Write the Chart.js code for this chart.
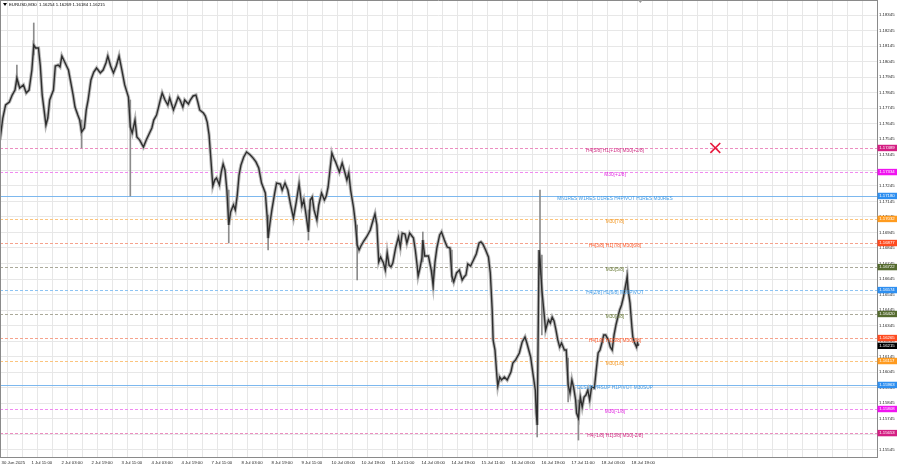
<!DOCTYPE html>
<html><head><meta charset="utf-8">
<script src="https://cdn.jsdelivr.net/npm/chart.js@4.4.1/dist/chart.umd.min.js"></script>
<style>html,body{margin:0;padding:0;background:#fff}#wrap{width:900px;height:468px;position:relative}</style>
</head><body><div id="wrap"><canvas id="c" width="900" height="468"></canvas></div>
<script>
// ---- DATA ----
const timeLabels = ["30 Jun 2025","1 Jul 11:00","2 Jul 03:00","2 Jul 19:00","3 Jul 11:00","4 Jul 03:00","4 Jul 19:00","7 Jul 11:00","8 Jul 03:00","8 Jul 19:00","9 Jul 11:00","10 Jul 03:00","10 Jul 19:00","11 Jul 11:00","14 Jul 03:00","14 Jul 19:00","15 Jul 11:00","16 Jul 03:00","16 Jul 19:00","17 Jul 11:00","18 Jul 03:00","18 Jul 19:00"];
const priceTicks = [1.15545,1.15645,1.15745,1.15845,1.15945,1.16045,1.16145,1.16245,1.16345,1.16445,1.16545,1.16645,1.16745,1.16845,1.16945,1.17045,1.17145,1.17245,1.17345,1.17445,1.17545,1.17645,1.17745,1.17845,1.17945,1.18045,1.18145,1.18245,1.18345];
const bars = [0,3,6,10,13,16,18,21,25,28,31,34,36,38,41,43,45,47,49,51,53,57,59,62,64,66,69,73,75,78,80,83,85,87,90,92,94,97,100,103,107,110,113,115,118,121,124,127,130,133,137,139,141,144,146,149,153,156,159,162,164,167,171,173,176,179,181,185,187,190,192,195,197,201,203,206,209,211,213,217,219,221,223,225,227,229,231,234,236,238,240,242,244,246,249,251,253,255,257,260,263,267,270,273,276,279,283,285,286,288,290,293,295,299,301,304,307,310,313,316,319,322,324,326,329,331,333,335,338,340,343,346,348,350,352,354,356,358,362,365,368,370,372,374,377,379,381,383,385,388,391,395,398,400,402,404,406,409,411,413,415,417,419,422,425,427,429,432,434,437,441,443,445,446,448,450,451,453,457,460,462,464,466,469,471,474,477,480,482,484,487,490,493,495,497,499,502,505,508,511,513,515,518,521,523,525,526,528,530,531,533,535,538,541,543,545,547,550,554,557,560,562,564,566,569,571,572,573,575,576,578,580,582,585,587,589,591,593,595,597,599,602,604,606,608,610,612,614,615,617,619,621,623,625,627,629,631,634,636,638,640,642,644,646,649,651,653,655,657,659,661,663,665,667,669,670,672,674,675,677,679,680,681];
const closes = [1.17540,1.17682,1.17766,1.17785,1.17830,1.17862,1.17940,1.17875,1.17895,1.17843,
1.17862,1.17991,1.18152,1.18133,1.18133,1.18017,1.17830,1.17734,1.17637,1.17682,
1.17798,1.17862,1.18017,1.18023,1.18011,1.18081,1.18043,1.17991,1.17927,1.17830,
1.17753,1.17701,1.17669,1.17592,1.17618,1.17734,1.17798,1.17927,1.17978,1.18004,
1.17972,1.17991,1.18036,1.18081,1.18017,1.17972,1.18017,1.18081,1.17991,1.17895,
1.17817,1.17624,1.17585,1.17669,1.17560,1.17540,1.17495,1.17540,1.17579,1.17618,
1.17669,1.17701,1.17798,1.17843,1.17798,1.17766,1.17811,1.17734,1.17766,1.17817,
1.17798,1.17753,1.17798,1.17772,1.17798,1.17824,1.17830,1.17785,1.17734,1.17714,
1.17695,1.17656,1.17573,1.17412,1.17244,1.17283,1.17296,1.17251,1.17334,1.17386,
1.17347,1.17218,1.16993,1.17077,1.17122,1.17090,1.17180,1.17315,1.17379,1.17431,
1.17463,1.17444,1.17424,1.17399,1.17360,1.17263,1.17199,1.17044,1.16909,1.17006,
1.17090,1.17199,1.17263,1.17257,1.17218,1.17263,1.17218,1.17122,1.17038,1.17141,
1.17257,1.17115,1.17154,1.17077,1.16948,1.17154,1.17173,1.17090,1.17025,1.17122,
1.17199,1.17154,1.17180,1.17238,1.17347,1.17457,1.17424,1.17399,1.17334,1.17392,
1.17328,1.17283,1.17328,1.17218,1.17109,1.17012,1.16864,1.16832,1.16858,1.16890,
1.16916,1.16961,1.17025,1.17064,1.16993,1.16755,1.16787,1.16748,1.16703,1.16813,
1.16735,1.16723,1.16748,1.16845,1.16916,1.16851,1.16941,1.16935,1.16877,1.16941,
1.16909,1.16832,1.16729,1.16665,1.16716,1.16780,1.16896,1.16793,1.16793,1.16703,
1.16607,1.16755,1.16845,1.16929,1.16948,1.16896,1.16851,1.16845,1.16665,1.16626,
1.16684,1.16703,1.16639,1.16658,1.16671,1.16742,1.16729,1.16768,1.16806,1.16877,
1.16884,1.16871,1.16832,1.16787,1.16684,1.16446,1.16252,1.16188,1.16021,1.15956,
1.16014,1.15995,1.16014,1.15995,1.16021,1.16046,1.16104,1.16124,1.16169,1.16240,
1.16272,1.16233,1.16188,1.16143,1.16014,1.15930,1.15782,1.15705,1.16832,1.16768,
1.16574,1.16446,1.16317,1.16381,1.16362,1.16400,1.16375,1.16317,1.16252,1.16207,
1.16233,1.16188,1.16188,1.15963,1.15911,1.15995,1.15943,1.15866,1.15782,1.15750,
1.15885,1.15821,1.15885,1.15898,1.15930,1.15866,1.15950,1.15943,1.16059,1.16169,
1.16188,1.16233,1.16285,1.16285,1.16252,1.16207,1.16188,1.16285,1.16349,1.16400,
1.16446,1.16478,1.16529,1.16594,1.16658,1.16574,1.16491,1.16336,1.16272,1.16233,
1.16207,1.16233,1.16215];
const spikeBars  = [18,36,87,139,244,286,329,381,451,462,482,573,576,578,606,617,669];
const spikeHighs = [1.18023,1.18294,1.17669,1.17798,1.17218,1.17057,1.17090,1.16993,1.16948,1.16703,1.16832,1.15834,1.17218,1.16800,1.16136,1.15866,1.16703];
const spikeLows  = [1.17895,1.18088,1.17489,1.17180,1.16877,1.16832,1.16896,1.16639,1.16755,1.16574,1.16626,1.15628,1.16671,1.16285,1.15853,1.15608,1.16574];
const levelValues = [1.17489,1.17334,1.17180,1.17032,1.16877,1.16722,1.16574,1.16420,1.16265,1.16117,1.15963,1.15808,1.15653];
const levelNames = ["H4[5/8] H1[+1/8] M30[+2/8]","M30[+1/8]","MN1RES W1RES D1RES H4PIVOT H1RES M30RES","M30[7/8]","H4[3/8] H1[7/8] M30[6/8]","M30[5/8]","H4[2/8] H1[6/8] M30PIVOT","M30[3/8]","H4[1/8] H1[5/8] M30[2/8]","M30[1/8]","D1SUP H4SUP H1PIVOT M30SUP","M30[-1/8]","H4[-1/8] H1[3/8] M30[-2/8]"];
const symbolHeader = "EURUSD,M30  1.16254 1.16269 1.16184 1.16215";
const lastPrice = 1.16215;
const markerBar = 763, markerPrice = 1.17489;

// ---- STYLES ----
const S = {
  pink:   {line:'#ec8cc0', box:'#d41f83', text:'#cf2a80', dash:[3,2], w:1},
  mag:    {line:'#f08af0', box:'#f014f0', text:'#e02ae0', dash:[3,2], w:1},
  blue:   {line:'#7db8ee', box:'#2e8ff0', text:'#3f9ae6', dash:[], w:1.2},
  orange: {line:'#fbc47e', box:'#ff9b1f', text:'#f39b2a', dash:[3,2], w:1},
  ored:   {line:'#f6a28c', box:'#ff4b20', text:'#fb5a2c', dash:[3,2], w:1},
  olive:  {line:'#aaa99a', box:'#556b2f', text:'#6d7e3c', dash:[3,2], w:1},
  dblue:  {line:'#8dc4f3', box:'#2e8ff0', text:'#3f9ae6', dash:[3,2], w:1}
};
const levelStyles = [S.pink,S.mag,S.blue,S.orange,S.ored,S.olive,S.dblue,S.olive,S.ored,S.orange,S.blue,S.mag,S.pink];
const pxPerBar = 30/32;
const labelBar = 656, shiftBar = 683;
const n = Math.min(bars.length, closes.length);
const closePts = []; for (let i=0;i<n;i++) closePts.push({x:bars[i], y:closes[i]});
const spikePts = spikeBars.map((b,i)=>({x:b, y:[spikeLows[i], spikeHighs[i]]}));
const tickFont = {family:'Liberation Sans, Arial, sans-serif', size:4.3};
const zeroPad = s => { s.paddingLeft = 0; s.paddingRight = 0; s.paddingTop = 0; s.paddingBottom = 0; };

const levelPlugin = {
  id:'levels',
  beforeDatasetsDraw(chart){
    const {ctx, chartArea:a, scales:{y}} = chart;
    ctx.save();
    ctx.beginPath(); ctx.rect(a.left,a.top,a.right-a.left,a.bottom-a.top); ctx.clip();
    levelValues.forEach((v,i)=>{
      const st = levelStyles[i];
      const py = Math.round(y.getPixelForValue(v))+0.5;
      ctx.strokeStyle = st.line; ctx.lineWidth = st.w; ctx.setLineDash(st.dash);
      ctx.beginPath(); ctx.moveTo(a.left,py); ctx.lineTo(a.right,py); ctx.stroke();
    });
    ctx.restore();
  },
  afterDatasetsDraw(chart){
    const {ctx, scales:{x,y}} = chart;
    ctx.save();
    ctx.font = '4.8px "Liberation Sans", Arial, sans-serif';
    ctx.textAlign = 'center'; ctx.textBaseline = 'top';
    const lx = x.getPixelForValue(labelBar);
    levelValues.forEach((v,i)=>{
      const py = y.getPixelForValue(v);
      ctx.fillStyle = levelStyles[i].text;
      ctx.fillText(levelNames[i], lx, py+0.6);
    });
    ctx.restore();
  },
  afterDraw(chart){
    const {ctx, chartArea:a, scales:{x,y}} = chart;
    ctx.save();
    ctx.strokeStyle = '#8a8a8a'; ctx.lineWidth = 1;
    ctx.beginPath(); ctx.moveTo(a.left+0.5,a.top); ctx.lineTo(a.left+0.5,a.bottom);
    ctx.moveTo(a.left,a.top+0.5); ctx.lineTo(a.right,a.top+0.5); ctx.stroke();
    ctx.font = '4.3px "Liberation Sans", Arial, sans-serif';
    ctx.textAlign = 'left'; ctx.textBaseline = 'middle';
    const box = (v, bg, fg)=>{
      const py = y.getPixelForValue(v);
      ctx.fillStyle = bg; ctx.fillRect(a.right+0.5, py-3.2, 19.5, 6.4);
      ctx.fillStyle = fg; ctx.fillText(v.toFixed(5), a.right+2.2, py+0.2);
    };
    levelValues.forEach((v,i)=>box(v, levelStyles[i].box, '#ffffff'));
    box(lastPrice, '#000000', '#ffffff');
    ctx.fillStyle = '#000'; ctx.textBaseline = 'top';
    ctx.fillText(symbolHeader, 9, 2.5);
    ctx.beginPath(); ctx.moveTo(3,3); ctx.lineTo(7,3); ctx.lineTo(5,6); ctx.closePath(); ctx.fill();
    const sx = x.getPixelForValue(shiftBar);
    ctx.fillStyle = '#9a9a9a';
    ctx.beginPath(); ctx.moveTo(sx-2.5,a.top); ctx.lineTo(sx+2.5,a.top); ctx.lineTo(sx,a.top+3); ctx.closePath(); ctx.fill();
    ctx.restore();
  }
};

new Chart(document.getElementById('c'), {
  type:'line',
  data:{ datasets:[
    {type:'line', data:[{x:markerBar,y:markerPrice}], showLine:false, pointStyle:'crossRot', pointRadius:7, pointBorderColor:'#e8173c', pointBorderWidth:1.6, borderColor:'#e8173c', order:0},
    {type:'line', data:closePts, borderColor:'#2e2e2e', borderWidth:1.4, pointRadius:0, tension:0, order:1},
    {type:'bar', data:spikePts, backgroundColor:'#8c8c8c', barThickness:1, order:2},
    {type:'line', data:closePts, borderColor:'#b8b8b8', borderWidth:3.4, pointRadius:0, tension:0, order:3}
  ]},
  options:{
    responsive:false, animation:false, events:[],
    layout:{padding:0, autoPadding:false},
    plugins:{legend:{display:false}, tooltip:{enabled:false}},
    scales:{
      x:{type:'linear', position:'bottom', min:0, max:877/pxPerBar, offset:false,
        afterBuildTicks(s){ const t=[]; for(let v=0; v<=s.max; v+=16) t.push({value:v}); s.ticks=t; },
        afterFit(s){ s.height = 11; zeroPad(s); },
        grid:{color:'#e7e7e7', drawTicks:false},
        border:{color:'#8a8a8a'},
        ticks:{autoSkip:false, maxRotation:0, align:'start', labelOffset:1.5, padding:3.5, color:'#222', font:tickFont,
          callback(v){ return (v%32===0 && timeLabels[v/32]!==undefined) ? timeLabels[v/32] : ''; }}
      },
      y:{type:'linear', position:'right', min:1.15499, max:1.18442,
        afterBuildTicks(s){ s.ticks = priceTicks.map(v=>({value:v})); },
        afterFit(s){ s.width = 23; zeroPad(s); },
        grid:{color:'#e7e7e7', drawTicks:false},
        border:{color:'#8a8a8a'},
        ticks:{padding:2, color:'#222', font:tickFont, callback(v){ return Number(v).toFixed(5); }}
      }
    }
  },
  plugins:[levelPlugin]
});
</script></body></html>
